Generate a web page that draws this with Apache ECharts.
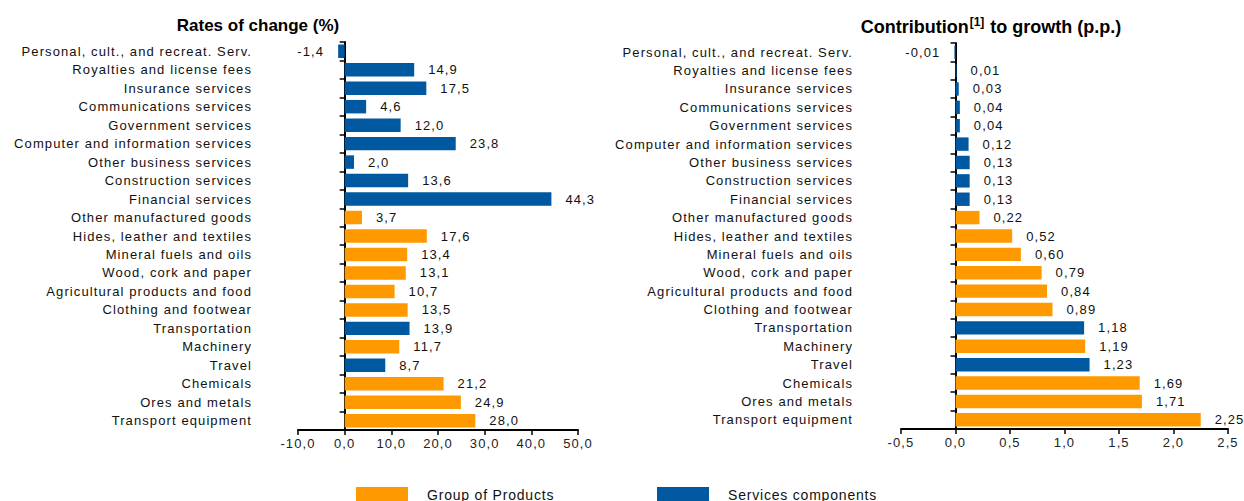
<!DOCTYPE html>
<html><head><meta charset="utf-8">
<script src="https://cdn.jsdelivr.net/npm/echarts@6/dist/echarts.min.js"></script>
<style>
html,body{margin:0;padding:0;background:#fff}
#c{width:1244px;height:501px}
#c text{letter-spacing:1.1px}
#c text[style*="bold"]{letter-spacing:0px}
#c text[style*="14px"]{letter-spacing:0.8px}
</style>
</head><body><div id="c"></div>
<script>
const categories = [
  'Personal, cult., and recreat. Serv.','Royalties and license fees','Insurance services',
  'Communications services','Government services','Computer and information services',
  'Other business services','Construction services','Financial services',
  'Other manufactured goods','Hides, leather and textiles','Mineral fuels and oils',
  'Wood, cork and paper','Agricultural products and food','Clothing and footwear',
  'Transportation','Machinery','Travel','Chemicals','Ores and metals','Transport equipment'
];
// 'P' = Group of Products, 'S' = Services components
const groups = ['S','S','S','S','S','S','S','S','S','P','P','P','P','P','P','S','P','S','P','P','P'];
const ratesOfChange = [-1.4,14.9,17.5,4.6,12.0,23.8,2.0,13.6,44.3,3.7,17.6,13.4,13.1,10.7,13.5,13.9,11.7,8.7,21.2,24.9,28.0];
const contribution = [-0.01,0.01,0.03,0.04,0.04,0.12,0.13,0.13,0.13,0.22,0.52,0.60,0.79,0.84,0.89,1.18,1.19,1.23,1.69,1.71,2.25];
const leftTicks = {min:-10, max:50, interval:10, decimals:1};
const rightTicks = {min:-0.5, max:2.5, interval:0.5, decimals:1};
const seriesNames = {P:'Group of Products', S:'Services components'};

const ORANGE = '#FF9900', BLUE = '#0059A0';
const font = 'Liberation Sans, Arial, sans-serif';
const fmt = (v, d) => v.toFixed(d).replace('.', ',');

function makeData(values, g, dec) {
  return values.map((v, i) => {
    if (groups[i] !== g) return '-';
    return { value: v, label: { position: v < 0 ? 'left' : 'right', formatter: () => fmt(v, dec) } };
  });
}

function barSeries(values, g, idx, dec) {
  return {
    name: seriesNames[g], type: 'bar', xAxisIndex: idx, yAxisIndex: idx,
    stack: 'st' + idx, barWidth: '73%',
    itemStyle: { color: g === 'P' ? ORANGE : BLUE },
    label: { show: true, distance: 14, color: '#111', fontSize: 13, fontFamily: font },
    data: makeData(values, g, dec)
  };
}

function xAx(idx, t) {
  return {
    type: 'value', gridIndex: idx, min: t.min, max: t.max, interval: t.interval,
    splitLine: { show: false },
    axisLine: { show: true, onZero: false, lineStyle: { color: '#000', width: 2 } },
    axisTick: { show: true, length: 5, lineStyle: { color: '#000', width: 1.5 } },
    axisLabel: { color: '#222', fontSize: 13, fontFamily: font, margin: 7, formatter: v => fmt(v, t.decimals) }
  };
}
function yAx(idx, margin) {
  return {
    type: 'category', gridIndex: idx, data: categories, inverse: true,
    axisLine: { show: true, lineStyle: { color: '#000', width: 2 } },
    axisTick: { show: true, length: 5, lineStyle: { color: '#000', width: 1.5 } },
    axisLabel: { color: '#111', fontSize: 13, fontFamily: font, margin: margin, interval: 0 }
  };
}
function legendItem(name, left) {
  return {
    left: left, top: 487, padding: 0, itemWidth: 52, itemHeight: 15, icon: 'rect',
    selectedMode: false, data: [name],
    textStyle: { fontSize: 14, color: '#111', fontFamily: font, padding: [0, 0, 0, 14] }
  };
}

const chart = echarts.init(document.getElementById('c'), null, { renderer: 'svg' });
chart.setOption({
  animation: false,
  title: [
    { text: 'Rates of change (%)', left: 253, top: 12, textAlign: 'center',
      textStyle: { fontSize: 17, fontWeight: 'bold', color: '#000', fontFamily: font } },
    { text: 'Contribution{sup|[1]} to growth (p.p.)', left: 986, top: 11, textAlign: 'center',
      textStyle: { fontSize: 18, fontWeight: 'bold', color: '#000', fontFamily: font,
        rich: { sup: { fontSize: 12, fontWeight: 'bold', color: '#000', fontFamily: font, verticalAlign: 'top', padding: [0, 1, 9, 1] } } } }
  ],
  legend: [legendItem(seriesNames.P, 356), legendItem(seriesNames.S, 657)],
  grid: [
    { left: 298, width: 280, top: 42, height: 388, containLabel: false },
    { left: 901, width: 327, top: 43, height: 386, containLabel: false }
  ],
  xAxis: [xAx(0, leftTicks), xAx(1, rightTicks)],
  yAxis: [yAx(0, 46), yAx(1, 48)],
  series: [
    barSeries(ratesOfChange, 'P', 0, 1),
    barSeries(ratesOfChange, 'S', 0, 1),
    barSeries(contribution, 'P', 1, 2),
    barSeries(contribution, 'S', 1, 2)
  ]
});
</script></body></html>
